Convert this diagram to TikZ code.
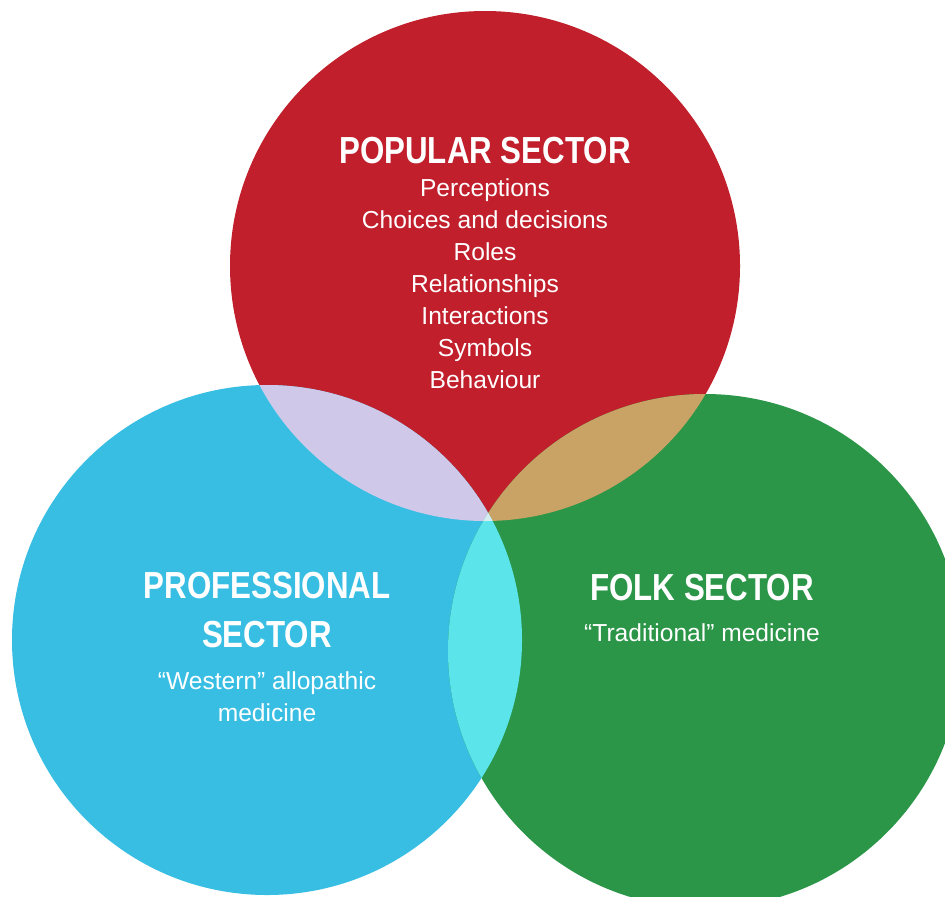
\documentclass[tikz,border=0pt]{standalone}
\usepackage{fontspec}
\setmainfont{Liberation Sans}
\newfontfamily\headfont[FakeStretch=0.83]{Liberation Sans Bold}
\usetikzlibrary{positioning}
\definecolor{pop-red}{HTML}{C01F2B}
\definecolor{pro-blue}{HTML}{38BEE3}
\definecolor{folk-green}{HTML}{2B9548}
\definecolor{pop-pro}{HTML}{CFC8E8}
\definecolor{pop-folk}{HTML}{C9A365}
\definecolor{pro-folk}{HTML}{5BE5EA}
\definecolor{all-three}{HTML}{D5EDF0}

\begin{document}
\begin{tikzpicture}[x=0.02cm, y=-0.02cm,
  title/.style={text=white, inner sep=0pt, align=center, anchor=base,
    font=\headfont\fontsize{21.45}{28}\selectfont},
  item/.style={text=white, inner sep=0pt, anchor=base,
    font=\fontsize{14}{18.2}\selectfont}]
\useasboundingbox (0, 0) rectangle (945, 896);
\coordinate (popular) at (485, 266);
\coordinate (professional) at (267, 640);
\coordinate (folk) at (705, 651);
% the three sectors
\fill[pop-red] (popular) circle[radius=255];
\fill[pro-blue] (professional) circle[radius=255];
\fill[folk-green] (folk) circle[radius=257];
% overlaps
\begin{scope}
  \clip (popular) circle[radius=255];
  \fill[pop-pro] (professional) circle[radius=255];
  \fill[pop-folk] (folk) circle[radius=257];
\end{scope}
\begin{scope}
  \clip (professional) circle[radius=255];
  \fill[pro-folk] (folk) circle[radius=257];
  \clip (popular) circle[radius=255];
  \fill[all-three] (folk) circle[radius=257];
\end{scope}
% labels
\node[title] (popular-title) at (485, 163) {POPULAR SECTOR};
\foreach \word [count=\i] in {Perceptions, Choices and decisions, Roles,
    Relationships, Interactions, Symbols, Behaviour} {
  \node[item] (popular-\i) at (485, 164+32*\i) {\word};
}
\node[title] (professional-title) at (267, 598) {PROFESSIONAL};
\node[title] (professional-title2) at (267, 647) {SECTOR};
\node[item] (professional-1) at (267, 689) {“Western” allopathic};
\node[item] (professional-2) at (267, 721) {medicine};
\node[title] (folk-title) at (702, 600) {FOLK SECTOR};
\node[item] (folk-1) at (702, 641) {“Traditional” medicine};
\end{tikzpicture}
\end{document}
